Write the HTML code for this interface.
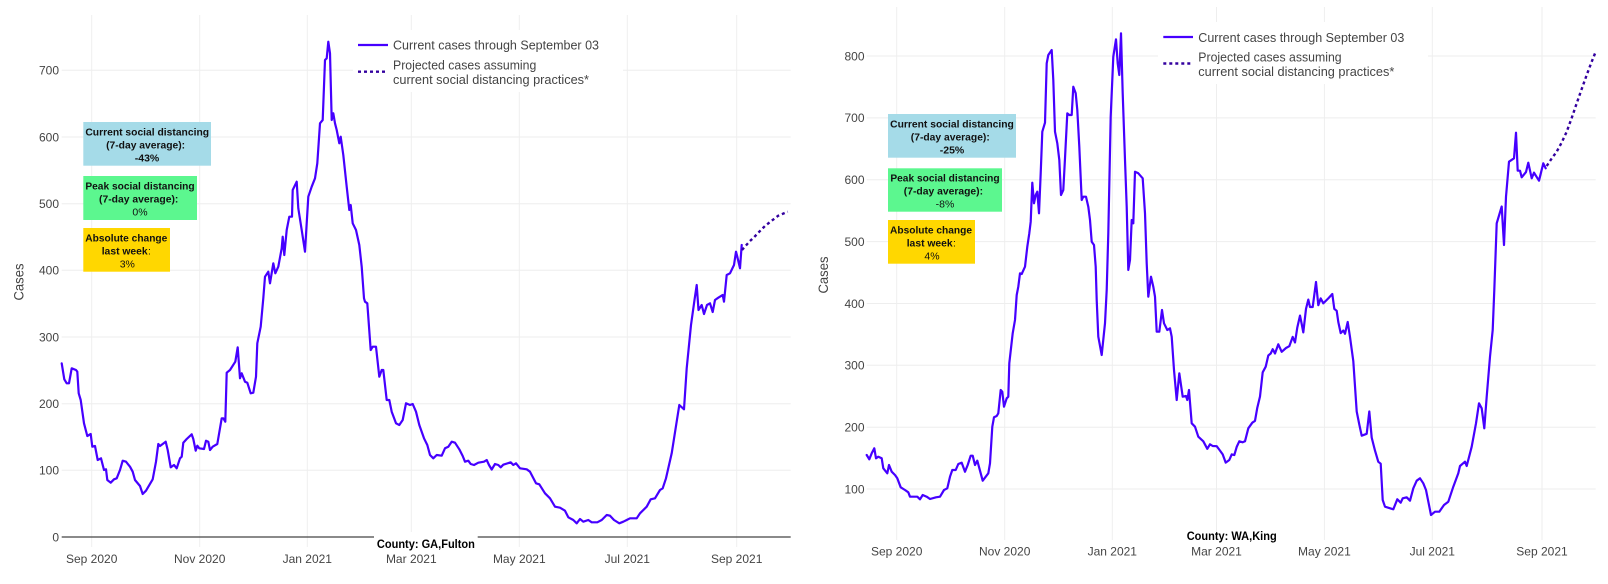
<!DOCTYPE html>
<html>
<head>
<meta charset="utf-8">
<style>
html,body{margin:0;padding:0;background:#fff;}
svg{display:block;font-family:"Liberation Sans",Arial,sans-serif;}
.tick{font-size:12px;fill:#444;}
.leg{font-size:12.5px;fill:#444;}
.bx{font-size:10.5px;fill:#111;font-weight:bold;}
.bn{font-size:10.5px;fill:#111;}
.grid{stroke:#eeeeee;stroke-width:1;fill:none;}
.cur{fill:none;stroke:#4600ff;stroke-width:2.2;stroke-linejoin:round;stroke-linecap:round;}
.proj{fill:none;stroke:#33009f;stroke-width:2.4;stroke-dasharray:3,3;}
</style>
</head>
<body>
<svg width="1608" height="584" viewBox="0 0 1608 584" xmlns="http://www.w3.org/2000/svg">
<rect x="0" y="0" width="1608" height="584" fill="#fff"/>

<!-- ================= LEFT CHART ================= -->
<g class="grid">
  <line x1="61.7" y1="470.3" x2="790.7" y2="470.3"/>
  <line x1="61.7" y1="403.7" x2="790.7" y2="403.7"/>
  <line x1="61.7" y1="337" x2="790.7" y2="337"/>
  <line x1="61.7" y1="270.3" x2="790.7" y2="270.3"/>
  <line x1="61.7" y1="203.7" x2="790.7" y2="203.7"/>
  <line x1="61.7" y1="137" x2="790.7" y2="137"/>
  <line x1="61.7" y1="70.3" x2="790.7" y2="70.3"/>
  <line x1="91.7" y1="15" x2="91.7" y2="547"/>
  <line x1="199.7" y1="15" x2="199.7" y2="547"/>
  <line x1="307.3" y1="15" x2="307.3" y2="547"/>
  <line x1="411.3" y1="15" x2="411.3" y2="547"/>
  <line x1="519.3" y1="15" x2="519.3" y2="547"/>
  <line x1="627.3" y1="15" x2="627.3" y2="547"/>
  <line x1="736.7" y1="15" x2="736.7" y2="547"/>
</g>
<line x1="61.7" y1="537" x2="790.7" y2="537" stroke="#444" stroke-width="1.2"/>

<!-- y ticks left -->
<g class="tick" text-anchor="end">
  <text x="59" y="541.3">0</text>
  <text x="59" y="474.6">100</text>
  <text x="59" y="407.9">200</text>
  <text x="59" y="341.3">300</text>
  <text x="59" y="274.6">400</text>
  <text x="59" y="208">500</text>
  <text x="59" y="141.3">600</text>
  <text x="59" y="74.6">700</text>
</g>
<g class="tick" text-anchor="middle">
  <text x="91.7" y="563">Sep 2020</text>
  <text x="199.7" y="563">Nov 2020</text>
  <text x="307.3" y="563">Jan 2021</text>
  <text x="411.3" y="563">Mar 2021</text>
  <text x="519.3" y="563">May 2021</text>
  <text x="627.3" y="563">Jul 2021</text>
  <text x="736.7" y="563">Sep 2021</text>
</g>
<text transform="translate(23.3,282) rotate(-90)" text-anchor="middle" font-size="14" fill="#444" textLength="37" lengthAdjust="spacingAndGlyphs">Cases</text>

<!-- left series -->
<polyline class="cur" points="61.7,363.3 64.3,379.3 66.7,383.3 69,383.3 71.7,368.3 76,370 77.3,371.7 78.7,393.3 80.7,400 84,423.3 87.3,436 90.7,434 92.3,446.7 95,446 97.7,460 101,458.3 104,470 106,469.3 107.3,480 110.7,482.7 114,479.3 116.7,478.3 120,470 122.7,460.7 126,461.7 130,466.7 132.7,471.7 135,480 140,486 142.7,494 146,490.7 152.7,479.3 156,461.7 158.3,444 160,446 165.7,441.7 167.7,450 170.7,467.3 174,465 176.7,468.3 180,458.3 181.7,456.7 183.3,442.7 186.7,439 191.7,434.3 193.3,439 195.7,450.7 197.3,445.7 199.3,448.3 204,449 206,440.7 208.3,441.7 210,450 212.7,446.7 217.3,444 221.7,418.3 223.3,418.3 225.3,421.7 226.7,372.7 230,370 235.3,361.7 237.7,347.3 240,378.3 241.7,373.3 245,381.7 247.3,382.7 250.7,393.3 253.3,392.7 256,376.7 257.3,343.3 260.7,326.7 263.3,298.3 265,276.7 268.3,271.7 270,283.3 273.3,263.3 275.3,273.3 278.3,266.7 281.7,248.3 282.7,236.7 284.3,255 286.7,230 289.3,216.7 292,216.7 292.7,190 296.7,181.7 298.3,208.3 301.7,230 305,251.7 308.3,196.7 311.7,186.7 315,178.3 317.3,163.3 320,123.3 322.7,120 325,60 326.7,58.3 328.3,41.7 330,53.3 331.7,120 333.3,113.3 335,123.3 336.7,130 339.3,143.3 340.7,136.7 343.3,155 346.7,186.7 349.3,210 350.7,205 352.7,223.3 356,230 359.3,245 361.7,266.7 364,298.3 365,301.7 367.3,303.3 370.7,350 372.7,346.7 376,346.7 379.3,376.7 381.7,370 383.3,370 386.7,400 389.3,400 391.7,411.7 396,423.3 399.3,425 402.7,420 406,403.3 410,405 412.7,404 416,411.7 419.3,425 424,438.3 427.3,445 430,455 433.3,458.3 436.7,455 441.7,455.7 445,448.3 448.3,446.7 451.7,441.7 455,442.7 459.3,449.3 462.7,456 465,461.7 468.3,460.7 470.7,464 474,465 478.3,462.7 484,461.7 486.7,460 489,465 491.7,469.5 495,464 498.3,465 500.7,467.3 503.3,464.7 510.7,462.3 513.3,465 516,463.3 520,468.3 526.7,469.3 530,471.7 536,483.3 539.3,484.3 545,493.3 550,498.3 555,506.7 560,507.7 565,510.7 568.3,517.3 573.3,520 576.7,523.3 580,519 583.3,521.7 588.3,520 591.7,522.3 597.3,522.3 601.7,520 606.7,515 610,515.7 614,520 619.3,523.3 623.3,521.7 626.7,520 630,518.3 636.7,518.3 640,513.3 646.7,506.7 650.7,499.3 655,498.3 660,490 662.7,488.3 666,478.3 671.7,453.3 679.3,405 684,409.3 686.7,368.3 691,325 694.5,300 696.7,285 698.5,310 701.7,305 704,314 707,305 710,303.3 712.7,312 715,300 718.3,297.7 722.7,295 724,301.7 726.7,275 730,273.3 734,265 736,251.7 737.3,256.7 740,268.3 741.7,245"/>
<polyline class="proj" points="742,250 749.3,241.7 754,237.3 759.3,231.7 765,226 771.7,220.7 778.3,215.7 787.7,211.7"/>

<!-- left legend -->
<rect x="353" y="30" width="270" height="62" fill="#fff"/>
<line x1="358" y1="45" x2="388" y2="45" stroke="#4600ff" stroke-width="2.2"/>
<line x1="358" y1="71.7" x2="388" y2="71.7" class="proj"/>
<text class="leg" x="393" y="49.5" textLength="206" lengthAdjust="spacingAndGlyphs">Current cases through September 03</text>
<text class="leg" x="393" y="69.5" textLength="143.3" lengthAdjust="spacingAndGlyphs">Projected cases assuming</text>
<text class="leg" x="393" y="84" textLength="196" lengthAdjust="spacingAndGlyphs">current social distancing practices*</text>

<!-- left annotation boxes -->
<rect x="83.3" y="122" width="127.7" height="43.7" fill="#a5dbe8"/>
<text class="bx" x="147.2" y="135.3" text-anchor="middle" textLength="123.7" lengthAdjust="spacingAndGlyphs">Current social distancing</text>
<text class="bx" x="145.6" y="148.5" text-anchor="middle" textLength="79" lengthAdjust="spacingAndGlyphs">(7-day average):</text>
<text class="bx" x="147" y="161.3" text-anchor="middle">-43%</text>

<rect x="83.3" y="176" width="113.7" height="44" fill="#5cf78f"/>
<text class="bx" x="140" y="189.5" text-anchor="middle" textLength="109.3" lengthAdjust="spacingAndGlyphs">Peak social distancing</text>
<text class="bx" x="138.7" y="202.5" text-anchor="middle" textLength="79.3" lengthAdjust="spacingAndGlyphs">(7-day average):</text>
<text class="bn" x="140" y="215.5" text-anchor="middle">0%</text>

<rect x="83.3" y="228" width="86.7" height="43.7" fill="#ffd700"/>
<text class="bx" x="126.3" y="241.5" text-anchor="middle" textLength="82" lengthAdjust="spacingAndGlyphs">Absolute change</text>
<text class="bx" x="101.7" y="254.5" textLength="46" lengthAdjust="spacingAndGlyphs">last week</text>
<text class="bn" x="148" y="254.5">:</text>
<text class="bn" x="127.3" y="267.3" text-anchor="middle">3%</text>

<!-- county label left -->
<rect x="374" y="532" width="103.7" height="20" fill="#fff"/>
<text x="425.9" y="548" text-anchor="middle" font-size="11.5" font-weight="bold" fill="#000" textLength="98" lengthAdjust="spacingAndGlyphs">County: GA,Fulton</text>

<!-- ================= RIGHT CHART ================= -->
<g class="grid">
  <line x1="866.7" y1="489" x2="1595.7" y2="489"/>
  <line x1="866.7" y1="427.2" x2="1595.7" y2="427.2"/>
  <line x1="866.7" y1="365.3" x2="1595.7" y2="365.3"/>
  <line x1="866.7" y1="303.5" x2="1595.7" y2="303.5"/>
  <line x1="866.7" y1="241.6" x2="1595.7" y2="241.6"/>
  <line x1="866.7" y1="179.7" x2="1595.7" y2="179.7"/>
  <line x1="866.7" y1="117.9" x2="1595.7" y2="117.9"/>
  <line x1="866.7" y1="56" x2="1595.7" y2="56"/>
  <line x1="896.7" y1="7" x2="896.7" y2="540"/>
  <line x1="1004.7" y1="7" x2="1004.7" y2="540"/>
  <line x1="1112.3" y1="7" x2="1112.3" y2="540"/>
  <line x1="1216.5" y1="7" x2="1216.5" y2="540"/>
  <line x1="1324.4" y1="7" x2="1324.4" y2="540"/>
  <line x1="1432.3" y1="7" x2="1432.3" y2="540"/>
  <line x1="1542" y1="7" x2="1542" y2="540"/>
</g>

<g class="tick" text-anchor="end">
  <text x="864.5" y="493.3">100</text>
  <text x="864.5" y="431.5">200</text>
  <text x="864.5" y="369.6">300</text>
  <text x="864.5" y="307.8">400</text>
  <text x="864.5" y="245.9">500</text>
  <text x="864.5" y="184">600</text>
  <text x="864.5" y="122.2">700</text>
  <text x="864.5" y="60.3">800</text>
</g>
<g class="tick" text-anchor="middle">
  <text x="896.7" y="555.5">Sep 2020</text>
  <text x="1004.7" y="555.5">Nov 2020</text>
  <text x="1112.3" y="555.5">Jan 2021</text>
  <text x="1216.5" y="555.5">Mar 2021</text>
  <text x="1324.4" y="555.5">May 2021</text>
  <text x="1432.3" y="555.5">Jul 2021</text>
  <text x="1542" y="555.5">Sep 2021</text>
</g>
<text transform="translate(828,275) rotate(-90)" text-anchor="middle" font-size="14" fill="#444" textLength="37" lengthAdjust="spacingAndGlyphs">Cases</text>

<!-- right series -->
<polyline class="cur" points="866.7,455 869.3,459.3 871.7,453.3 874.3,448.3 876,458.3 878.3,456.7 881.7,458.3 883.3,468.3 887.3,473.3 889,465 891.7,471.7 895,475 897.3,478.3 900.7,487.3 905,490 908.3,492.3 910,496.7 914,496.7 917.3,496.7 920,499.3 922.7,495 926.7,496.7 930,499 936,497.3 940,496.7 944,490 947.3,488.3 950,476.7 952.3,470 955.7,470 958.3,464 961.7,462.7 965,471.7 967.7,465 970.7,455.7 972.7,455.7 975,465 977.3,460.7 982.7,480.7 988.3,473.3 990,463.3 992.3,426.7 994,417.3 996.7,416 998.3,413.3 1000.7,390 1002.3,391.7 1004,406.7 1006.7,398.3 1008.3,396.7 1009.3,363.3 1012.7,333.3 1015,320 1016.7,295 1018.3,286.7 1020,273.3 1021.7,274 1025,266.7 1027.3,246.7 1029.3,233.3 1030.7,221.7 1032.3,182.7 1034,203.3 1035.7,195 1037.3,191.7 1039,213.3 1040.7,173.3 1042.3,131.7 1045,122.7 1046.7,63.3 1048.3,55 1051.7,50 1053.3,80 1055,131.7 1057.3,143.3 1059.3,160 1061,195 1063.3,190 1065,158.3 1067.3,113.3 1069.3,115 1071.7,115 1073.3,86.7 1075.7,93.3 1077.3,110 1079.3,146.7 1081.7,200 1083.3,196.7 1086,196.7 1088.3,206.7 1090,220 1091.7,241.7 1094,245 1095.7,266.7 1096.7,300 1098.3,336.7 1101.7,355 1105,323.3 1106.7,290 1108.3,233.3 1110.7,116.7 1113.3,56.7 1116,39.3 1117.7,63.3 1119.3,75 1121,33.3 1122.7,93.3 1125,160 1126.7,206.7 1128.3,270 1130,260 1131.7,220 1133.3,223.3 1135,171.7 1138.3,173.3 1142.7,178.3 1145,213.3 1146.7,263.3 1148.3,296.7 1151,276.7 1153.3,286.7 1155,296.7 1156.7,331.7 1159.3,331.7 1162,310 1164,323.3 1167.3,330 1170,328.3 1171.7,336.7 1174,370 1176.7,400 1179.3,373.3 1182.7,396.7 1186,396 1187.3,400 1189,390 1191.7,423.3 1195,426.7 1198.3,436.7 1203.3,441.3 1207.3,448.8 1210,444.3 1212.7,446 1216.7,446.2 1220,450.6 1222.7,454.4 1225.7,462.6 1229.3,460 1231.7,454.4 1234.3,455 1236.7,446.9 1239.3,441.3 1242.7,442.3 1245,441.3 1248.3,428.3 1252.3,422.7 1255,420.8 1257.3,407.7 1260,396.5 1262.7,372.3 1265.7,366.7 1268.3,355.5 1270.7,353.5 1272.7,349.2 1275,353.5 1278.3,344.3 1281.7,351.8 1286,348 1289.3,346.2 1292.7,336.9 1295,342.5 1297.3,327.5 1300,315.6 1301.7,324 1303.3,332.4 1306,308.9 1308.3,299.6 1310,307 1312.7,307 1316,282 1318.3,305.2 1320.7,298.4 1323.3,303.3 1328.3,298.4 1332.3,294 1334.3,308.9 1336.7,310.8 1338.3,322 1340.7,333.1 1343.3,330.5 1345,333.8 1347.7,322 1350,336.9 1353.3,361.1 1356.7,411.5 1359.3,424.5 1361.7,435.7 1366.7,433.8 1369.3,411.5 1371.7,437.6 1375,450.6 1378.3,461.8 1380.7,463.7 1382.7,500 1385,506.7 1393.3,509.3 1397.3,499.3 1400.7,502.7 1402.7,498.3 1406.7,497.3 1410,500.7 1413.3,488.3 1416.7,480.7 1420,478.3 1423.3,483.3 1426,490 1431,515 1435,511.7 1439.3,511.7 1444,505 1448.3,501.7 1453.3,486.7 1458.3,473.3 1460,466 1465,461.7 1466.7,466 1471.7,446.7 1476,423.3 1479,403.3 1481.7,408.3 1484.3,428.3 1486.7,396.7 1490,356.7 1492.7,330 1494.3,290 1496.7,223.3 1501.7,206.5 1504,245 1506,196.7 1509,161.7 1514,158.3 1516,132.7 1517.7,170.7 1520,170.7 1521.7,177.3 1526,172 1528.3,162.7 1531.7,178.3 1534,172.7 1539,180.7 1543.3,163.3 1545.7,168.3"/>
<polyline class="proj" points="1546.7,166 1551.7,158.5 1556.7,151.7 1561.7,142.5 1566.7,131.7 1571.7,118 1576.7,103.3 1581.7,89 1586.7,75 1591,63.5 1595.3,52.7"/>

<!-- right legend -->
<rect x="1158" y="22" width="270" height="62" fill="#fff"/>
<line x1="1163.3" y1="37" x2="1193" y2="37" stroke="#4600ff" stroke-width="2.2"/>
<line x1="1163.3" y1="63.5" x2="1193" y2="63.5" class="proj"/>
<text class="leg" x="1198.3" y="41.8" textLength="206" lengthAdjust="spacingAndGlyphs">Current cases through September 03</text>
<text class="leg" x="1198.3" y="61.5" textLength="143.3" lengthAdjust="spacingAndGlyphs">Projected cases assuming</text>
<text class="leg" x="1198.3" y="76" textLength="196" lengthAdjust="spacingAndGlyphs">current social distancing practices*</text>

<!-- right annotation boxes -->
<rect x="888" y="114" width="128" height="43.7" fill="#a5dbe8"/>
<text class="bx" x="952" y="127.3" text-anchor="middle" textLength="123.7" lengthAdjust="spacingAndGlyphs">Current social distancing</text>
<text class="bx" x="950.3" y="140.5" text-anchor="middle" textLength="79" lengthAdjust="spacingAndGlyphs">(7-day average):</text>
<text class="bx" x="952" y="153.3" text-anchor="middle">-25%</text>

<rect x="888" y="168.3" width="114" height="43.4" fill="#5cf78f"/>
<text class="bx" x="945" y="181.5" text-anchor="middle" textLength="109.3" lengthAdjust="spacingAndGlyphs">Peak social distancing</text>
<text class="bx" x="943.4" y="194.5" text-anchor="middle" textLength="79.3" lengthAdjust="spacingAndGlyphs">(7-day average):</text>
<text class="bn" x="945" y="207.5" text-anchor="middle">-8%</text>

<rect x="888" y="220" width="87" height="43.7" fill="#ffd700"/>
<text class="bx" x="931" y="233.5" text-anchor="middle" textLength="82" lengthAdjust="spacingAndGlyphs">Absolute change</text>
<text class="bx" x="906.7" y="246.5" textLength="46" lengthAdjust="spacingAndGlyphs">last week</text>
<text class="bn" x="953" y="246.5">:</text>
<text class="bn" x="932" y="259.3" text-anchor="middle">4%</text>

<!-- county label right -->
<text x="1231.7" y="540" text-anchor="middle" font-size="11.5" font-weight="bold" fill="#000" textLength="90" lengthAdjust="spacingAndGlyphs">County: WA,King</text>
</svg>
</body>
</html>
